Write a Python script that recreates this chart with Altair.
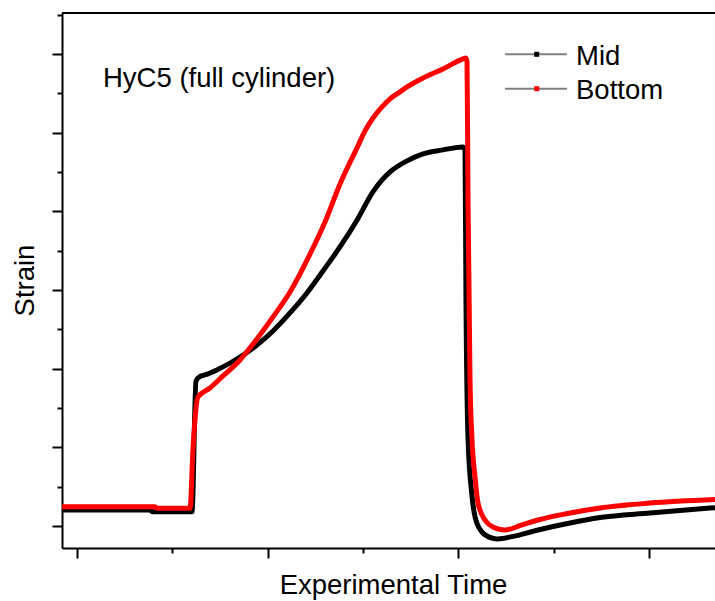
import altair as alt
import pandas as pd

# ---- data ----
mid_x = [-7.87, 38.3, 39.3, 60.3, 62.4, 64.5, 67.1, 73.4, 85.5, 94.4, 102.8, 111.7, 120.6, 129.0,
         137.9, 146.9, 155.2, 160.0, 164.2, 173.1, 181.5, 192.0, 202.4, 203.5, 204.0, 205.1,
         207.0, 208.74, 212.25, 217.5, 220.8, 228.0, 241.78, 255.94, 274.3, 300.52, 334.6]
mid_y = [0.203, 0.203, 0.182, 0.182, 1.843, 1.90, 1.919, 1.983, 2.148, 2.301, 2.479, 2.708, 2.962, 3.241,
         3.546, 3.890, 4.246, 4.398, 4.500, 4.640, 4.729, 4.780, 4.818, 4.78, 2.873, 1.093,
         0.419, 0.118, -0.072, -0.153, -0.165, -0.136, -0.051, 0.025, 0.108, 0.165, 0.233]

bottom_x = [-7.87, 40.9, 41.96, 59.3, 60.8, 63.46, 69.76, 76.57, 85.49, 90.73, 102.8, 111.71,
            123.25, 130.07, 137.94, 146.85, 151.05, 155.24, 159.97, 164.16, 169.41, 173.08,
            181.47, 191.96, 202.45,
            204.02, 204.55, 205.07, 206.12, 207.17, 208.74, 210.31, 213.99, 219.23, 224.48,
            233.39, 241.78, 255.94, 274.3, 300.52, 334.6]
bottom_y = [0.245, 0.245, 0.225, 0.225, 0.966, 1.640, 1.754, 1.907, 2.110, 2.263, 2.657, 2.974,
            3.508, 3.864, 4.347, 4.805, 5.021, 5.186, 5.326, 5.428, 5.517, 5.580,
            5.695, 5.809, 5.936,
            5.949, 5.898, 4.144, 1.856, 1.093, 0.623, 0.292, 0.076, -0.025, -0.051,
            0.013, 0.076, 0.153, 0.229, 0.292, 0.337]

series = ["Mid", "Bottom"]
colors = ["#000000", "#ff0000"]
x_ticks = [0, 50, 100, 150, 200, 250, 300]
y_ticks = [0, 0.5, 1, 1.5, 2, 2.5, 3, 3.5, 4, 4.5, 5, 5.5, 6, 6.5]
annot = "HyC5 (full cylinder)"
x_title = "Experimental Time"
y_title = "Strain"

W, H = 653, 535
FONT = "Liberation Sans"
FS = 27.5

xscale = alt.Scale(domain=[-7.87, 334.6], nice=False, zero=False)
yscale = alt.Scale(domain=[-0.28, 6.52], nice=False, zero=False)

xaxis = alt.Axis(values=x_ticks, labels=False, grid=False, domainColor="black", domainWidth=2,
                 tickColor="black", tickWidth=2,
                 tickSize={"condition": {"test": "datum.value % 100 === 0", "value": 10}, "value": 5},
                 title=x_title, titleFont=FONT, titleFontSize=FS, titleFontWeight="normal",
                 titleColor="black", titleBaseline="alphabetic", titleAlign="center",
                 titleX=331, titleY=45)
yaxis = alt.Axis(values=y_ticks, labels=False, grid=False, domainColor="black", domainWidth=2,
                 tickColor="black", tickWidth=2,
                 tickSize={"condition": {"test": "datum.value % 1 === 0", "value": 10}, "value": 5},
                 title=y_title, titleFont=FONT, titleFontSize=FS, titleFontWeight="normal",
                 titleColor="black", titleBaseline="alphabetic", titleAlign="center",
                 titleAngle=270, titleX=-29, titleY=267)

mid_df = pd.DataFrame({"t": mid_x, "s": mid_y})
bot_df = pd.DataFrame({"t": bottom_x, "s": bottom_y})


def line_layer(df, color):
    return alt.Chart(df).mark_line(color=color, strokeWidth=5, interpolate="monotone").encode(
        x=alt.X("t:Q", scale=xscale, axis=xaxis),
        y=alt.Y("s:Q", scale=yscale, axis=yaxis),
    )


one = pd.DataFrame({"k": [0]})
layers = [line_layer(mid_df, colors[0]), line_layer(bot_df, colors[1])]

layers.append(alt.Chart(one).mark_rule(color="black", strokeWidth=2).encode(
    x=alt.value(0), x2=alt.value(W), y=alt.value(0)))

layers.append(alt.Chart(one).mark_text(align="left", baseline="alphabetic", font=FONT,
                                       fontSize=FS, color="black").encode(
    x=alt.value(41), y=alt.value(73.7), text=alt.value(annot)))

for i, name in enumerate(series):
    ly = 41.3 + i * 34.4
    layers.append(alt.Chart(one).mark_rule(color="#808080", strokeWidth=2).encode(
        x=alt.value(443), x2=alt.value(505), y=alt.value(ly)))
    layers.append(alt.Chart(one).mark_square(size=25, color=colors[i], opacity=1).encode(
        x=alt.value(474.7), y=alt.value(ly)))
    layers.append(alt.Chart(one).mark_text(align="left", baseline="alphabetic", font=FONT,
                                           fontSize=FS, color="black").encode(
        x=alt.value(514), y=alt.value(ly + 10.7), text=alt.value(name)))

chart = alt.layer(*layers).properties(
    width=W, height=H,
    padding={"left": 62, "top": 13, "right": 0, "bottom": 53},
    autosize=alt.AutoSizeParams(type="none"),
).configure_view(stroke=None).configure(background="white")

chart.save("out.html", embed_options={"renderer": "svg", "actions": False})
